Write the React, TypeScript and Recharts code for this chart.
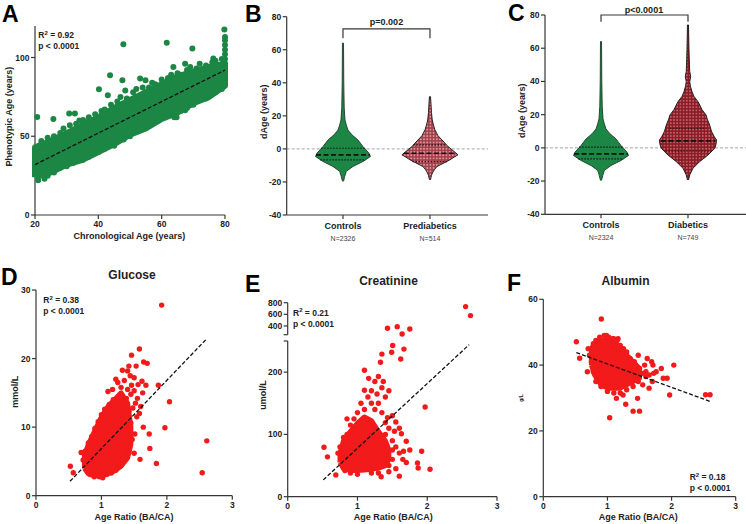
import React from "react";
import { ScatterChart, Scatter, XAxis, YAxis, ReferenceLine } from "recharts";

type Pt = { x: number; y: number };

const FONT = "'Liberation Sans', Arial, Helvetica, sans-serif";
const GREEN = "#1c8745";
const RED = "#f21a1a";
const INK = "#222";
const AXIS_COLOR = "#363636";

// ---------- A: phenotypic age vs chronological age
const ageTicks = [20, 40, 60, 80];
const phenoTicks = [0, 50, 100];
// dense part of the cloud (lower / upper edge of the band)
const ageBandX = [20, 25, 30, 35, 40, 45, 50, 55, 60, 65, 70, 75, 80];
const ageBandLow = [24, 27, 32, 35, 40, 45, 51, 55, 61, 65, 71, 75, 82];
const ageBandHigh = [43, 47, 52, 57, 62, 68, 73, 78, 83, 88, 91, 94, 96];
const agePoints = [
  [20.7, 62.3], [47.9, 108.4], [61.6, 109.3], [69.7, 105.7], [79.8, 117.7], [43.7, 88.8],
  [40.2, 79.9], [47.6, 85.6], [53.2, 86.7], [54.9, 85.6], [63.7, 94], [67.4, 96], [76.3, 99.4],
  [25.8, 60.9], [30.8, 64.5], [32.6, 64.5], [35.2, 60.3], [42.6, 44.4], [43, 76], [48.5, 79],
  [64.7, 62], [67.4, 66.5], [79, 81.5],
  [80, 84], [80, 88], [80, 92], [80, 96], [80, 99], [80, 102], [80, 105], [80, 108], [80, 111], [80, 113],
  [22, 47], [24, 49], [26, 50], [28, 52], [29, 55], [31, 57], [33, 58], [34, 60], [36, 59], [37, 62],
  [39, 64], [41, 66], [42, 67], [44, 70], [46, 72], [47, 75], [49, 74], [51, 78], [52, 80], [54, 81],
  [56, 81], [57, 84], [58, 83], [60, 86], [62, 87], [63, 89], [65, 90], [66, 89], [68, 92], [69, 94],
  [71, 93], [72, 96], [74, 95], [76, 97], [77, 98], [79, 99],
  [21, 22], [23, 23], [24, 25], [26, 27], [28, 30], [30, 31], [32, 33], [35, 35], [37, 37], [38, 40],
  [40, 40], [42, 42], [43, 45], [45, 44], [46, 47], [48, 48], [50, 50], [52, 53], [54, 55], [55, 57],
  [57, 58], [59, 60], [61, 62], [63, 64], [64, 62], [66, 66], [68, 68], [70, 70], [72, 73], [74, 74],
  [75, 76], [77, 78], [79, 80],
];
const ageFit = [[20, 32], [80, 92]];

// ---------- B / C: dAge violins
const dAgeTicks = [-40, -20, 0, 20, 40, 60, 80];
const groupsB = ["Controls", "Prediabetics"];
const countsB = ["N=2326", "N=514"];
const groupsC = ["Controls", "Diabetics"];
const countsC = ["N=2324", "N=749"];

const controlsLevels = [-19.6, -16.6, -13.6, -10.6, -7.6, -4.6, -2.6, 1.4, 5.4, 8.5, 11.4, 14.5, 17.5, 25, 40, 64];
const controlsWidth = [0.006, 0.02, 0.038, 0.115, 0.23, 0.316, 0.299, 0.23, 0.172, 0.103, 0.057, 0.038, 0.023, 0.014, 0.009, 0.006];
const controlsQuart = [[-6.6, 0.26], [-3.6, 0.31], [0.4, 0.25]];

const preLevels = [-18.7, -16, -14.5, -12.5, -10.7, -8.5, -6.6, -5, -3.6, -2, 0, 1.4, 3.5, 5.4, 8, 11.5, 14.5, 17.5, 22, 28, 31.6];
const preWidth = [0.006, 0.017, 0.029, 0.052, 0.08, 0.161, 0.23, 0.276, 0.322, 0.287, 0.241, 0.207, 0.172, 0.138, 0.092, 0.057, 0.04, 0.026, 0.017, 0.011, 0.006];
const preQuart = [[-7.7, 0.2], [-2.6, 0.3], [2.4, 0.19]];

const diaLevels = [-19.3, -16.3, -12.3, -8.3, -4.3, -0.3, 2, 4.7, 7, 10, 13.8, 17, 19.8, 23, 25.5, 27.8, 31, 33.8, 37, 39.8, 42.9, 46, 50, 60, 74];
const diaWidth = [0.006, 0.02, 0.057, 0.134, 0.23, 0.307, 0.322, 0.328, 0.299, 0.27, 0.249, 0.224, 0.207, 0.161, 0.138, 0.115, 0.069, 0.046, 0.029, 0.02, 0.031, 0.02, 0.017, 0.011, 0.006];
const diaQuart = [[-1.9, 0.26], [4.2, 0.31], [11.8, 0.21]];

// ---------- D: glucose
const ratioTicks = [0, 1, 2, 3];
const glucoseTicks = [0, 10, 20, 30];
const glucoseBandX = [0.74, 0.8, 0.9, 1.0, 1.1, 1.2, 1.3, 1.4, 1.45];
const glucoseBandLow = [4.0, 3.2, 2.9, 2.9, 3.2, 3.6, 4.3, 5.5, 7.5];
const glucoseBandHigh = [5.8, 7.5, 9.5, 11.5, 13, 14, 15, 13.5, 10];
const glucosePoints = [
  [1.92, 27.8], [1.58, 21.4], [1.46, 20.5], [1.645, 19.5], [1.7, 19.3], [1.53, 18.9], [1.42, 18.9],
  [1.32, 18.3], [1.87, 16.1], [2.04, 13.7], [1.97, 9.9], [2.61, 8.0], [2.54, 3.35], [1.84, 4.7],
  [1.74, 6.9], [0.525, 4.3], [0.57, 3.35], [0.69, 6.3], [1.64, 10], [1.59, 5.3], [1.22, 17],
  [1.1, 15.2], [1.17, 15.5], [1.68, 16.1], [1.63, 15], [1.46, 16.1], [1.54, 11.5], [1.51, 9.0],
  [1.43, 7.05], [1.5, 6.2], [1.73, 9], [1.375, 11.8], [1.33, 5.5], [1.17, 3.75], [1.02, 2.6],
  [0.89, 2.75], [0.79, 3.5], [1.25, 4.5],
  [1.25, 16.5], [1.3, 15.8], [1.35, 16.8], [1.4, 15.5], [1.45, 14.8], [1.5, 15.3], [1.52, 13.5],
  [1.48, 12.8], [1.38, 14.2], [1.28, 14.6], [1.55, 14.2], [1.6, 13], [1.58, 12], [1.44, 17.5],
  [1.4, 18.2], [1.5, 17.2], [1.33, 13.2], [1.62, 16.7], [1.56, 16.2],
  [0.72, 5.2], [0.75, 6.5], [0.8, 7.7], [0.85, 8.6], [0.9, 9.8], [0.95, 10.8], [1.0, 11.8],
  [1.05, 12.6], [1.12, 13.3], [1.18, 14], [0.78, 4.1], [0.83, 3.1], [0.9, 2.9], [0.97, 2.75],
  [1.08, 3.1], [1.15, 3.3], [1.22, 3.7], [1.3, 4.6], [1.36, 5.5], [1.42, 6.3], [1.47, 8.2],
  [1.45, 10.6], [1.42, 12.3],
];
const glucoseFit = [[0.52, 2.1], [2.61, 22.9]];

// ---------- E: creatinine (broken axis)
const creatLowTicks = [0, 100, 200, 250];
const creatHighTicks = [250, 400, 600, 800];
const creatBandX = [0.75, 0.8, 0.9, 1.0, 1.1, 1.2, 1.3, 1.4, 1.45];
const creatBandLow = [55, 45, 42, 42, 43, 44, 46, 50, 60];
const creatBandHigh = [70, 90, 105, 118, 128, 122, 105, 90, 75];
const creatLowPoints = [
  [1.505, 242.7], [1.666, 237], [1.49, 232], [1.35, 229], [1.62, 221], [1.33, 216], [1.1, 203],
  [1.3, 193], [1.16, 190], [1.37, 185], [1.25, 185], [1.1, 171], [1.97, 144], [0.52, 79.5],
  [0.57, 64], [0.69, 35], [1.92, 73], [2.04, 44], [1.86, 54], [1.87, 46], [1.6, 33], [1.34, 32],
  [1.63, 101], [1.53, 105], [1.7, 89], [1.66, 73], [1.43, 127], [1.4, 119],
  [1.2, 170], [1.15, 160], [1.28, 165], [1.35, 175], [1.05, 150], [1.2, 150], [1.3, 150], [1.4, 160],
  [1.45, 170], [1.0, 135], [1.1, 140], [1.25, 140], [1.35, 135], [1.5, 130], [1.55, 120], [1.6, 110],
  [1.5, 90], [1.55, 80], [1.6, 70], [1.65, 60], [1.5, 60], [1.45, 50], [1.55, 45], [1.7, 55],
  [1.75, 75], [0.85, 100], [0.8, 95], [0.75, 80], [0.72, 70], [0.78, 60], [0.85, 125], [0.9, 115],
  [0.95, 125], [1.45, 40], [1.3, 38], [1.2, 38], [1.0, 36], [0.9, 38], [0.82, 42], [1.4, 100],
  [1.45, 110], [1.5, 75],
];
const creatHighPoints = [[1.43, 360], [1.57, 388], [1.64, 263], [1.75, 349], [2.55, 733], [2.62, 578]];
const creatFit = [[0.51, 27], [2.6, 244]];

// ---------- F: albumin
const albuminTicks = [0, 20, 40, 60];
const albuminBandX = [0.75, 0.8, 0.9, 1.0, 1.1, 1.2, 1.3, 1.4, 1.5];
const albuminBandLow = [40, 37, 34, 33, 33, 33, 34, 35, 36];
const albuminBandHigh = [45, 46.5, 47.5, 47.5, 47, 45.5, 43, 41, 39];
const albuminPoints = [
  [0.905, 54], [0.515, 47.1], [0.567, 42.1], [0.687, 38], [1.035, 24], [1.4, 26], [1.5, 26],
  [1.285, 28.1], [1.243, 30.9], [1.47, 29.9], [1.14, 29.9], [1.97, 30.9], [2.53, 31], [2.6, 31],
  [2.035, 40], [1.84, 39], [1.93, 36], [1.87, 36], [1.71, 40], [1.62, 42], [1.69, 41], [1.65, 33],
  [1.48, 43], [1.35, 42], [1.1, 48], [1.165, 48], [0.985, 49], [1.76, 38],
  [0.82, 47.5], [0.88, 48.5], [0.95, 49], [1.02, 48.5], [1.08, 48], [1.15, 47.5], [1.2, 46],
  [1.25, 45], [1.3, 44], [1.35, 42], [1.42, 41], [1.5, 39], [1.55, 37.5], [1.6, 36.5], [1.48, 35],
  [1.4, 33.5], [1.3, 32.5], [1.2, 31.5], [1.1, 31.5], [1.0, 32], [0.9, 33.5], [0.82, 35],
  [0.78, 38], [0.75, 41], [0.72, 43], [0.7, 45], [0.78, 46.5], [1.55, 34], [1.6, 38], [1.65, 37],
  [1.58, 40], [1.45, 37], [1.38, 38], [1.3, 36], [1.7, 35], [1.72, 37.5],
];
const albuminFit = [[0.515, 43.8], [2.61, 28.9]];

// ---------- helpers
const toXY = (pts: number[][]): Pt[] => pts.map(([x, y]) => ({ x, y }));
const bandPolygon = (xs: number[], lo: number[], hi: number[]): Pt[] => [
  ...xs.map((x, i) => ({ x, y: lo[i] })),
  ...xs.map((x, i) => ({ x, y: hi[i] })).reverse(),
  { x: xs[0], y: lo[0] },
];
const noDot = () => <g />;
const dot = (r: number, fill: string) => (p: any) =>
  p.cx == null ? <g /> : <circle cx={p.cx} cy={p.cy} r={r} fill={fill} />;

const tickStyle = { fontSize: 8.5, fontWeight: 700, fill: INK };
const axisLineStyle = { stroke: AXIS_COLOR, strokeWidth: 1.2 };
const fitLine = { stroke: "#111", strokeWidth: 1.3, strokeDasharray: "4 2" };
const hide250 = (v: number) => (v === 250 ? "" : String(v));

const categoryTick = (labels: string[], counts: string[]) => (props: any) => {
  const { x, y, payload } = props;
  const i = Math.round(payload.value) - 1;
  return (
    <g>
      <text x={x} y={y + 7.5} textAnchor="middle" fontSize={9} fontWeight={700} fill={INK}>
        {labels[i]}
      </text>
      <text x={x} y={y + 19.5} textAnchor="middle" fontSize={7} fill="#444">
        {counts[i]}
      </text>
    </g>
  );
};

function violin(id: string, center: number, levels: number[], widths: number[], fill: string, stroke: string, quart: number[][]) {
  const right = levels.map((v, i) => ({ x: center + widths[i], y: v }));
  const left = levels.map((v, i) => ({ x: center - widths[i], y: v })).reverse();
  const parts = [
    <Scatter
      key={id}
      data={[...right, ...left]}
      line={{ stroke, strokeWidth: 0.9, fill }}
      shape={noDot}
      isAnimationActive={false}
    />,
  ];
  quart.forEach(([v, w], j) => {
    parts.push(
      <Scatter
        key={id + j}
        data={[{ x: center - w, y: v }, { x: center + w, y: v }]}
        line={{ stroke: "#111", strokeWidth: j === 1 ? 1.6 : 1.2, strokeDasharray: j === 1 ? "5 2.5" : "1.4 1.6" }}
        shape={noDot}
        isAnimationActive={false}
      />
    );
  });
  return parts;
}

const bracket = (low: number, high: number): Pt[] => [
  { x: 1, y: low }, { x: 1, y: high }, { x: 2, y: high }, { x: 2, y: low },
];

function Stat({ x, y, r2 }: { x: number; y: number; r2: string }) {
  return (
    <g fontSize={8.5} fontWeight={700} fill={INK}>
      <text x={x} y={y}>
        R<tspan fontSize={6} dy={-3.5}>2</tspan>
        <tspan dy={3.5}>{` = ${r2}`}</tspan>
      </text>
      <text x={x} y={y + 11}>p &lt; 0.0001</text>
    </g>
  );
}

const boxAt = (left: number, top: number): React.CSSProperties => ({ position: "absolute", left, top });

export default function App() {
  return (
    <div style={{ position: "absolute", left: 0, top: 0, width: 746, height: 524, background: "#fff", fontFamily: FONT }}>
      {/* A */}
      <div style={boxAt(0, 0)}>
        <ScatterChart width={240} height={250} margin={{ top: 26, right: 15, bottom: 0, left: 0 }}>
          <XAxis type="number" dataKey="x" domain={[20, 80]} ticks={ageTicks} interval={0} height={35}
            tick={tickStyle} tickSize={4} tickMargin={2} axisLine={axisLineStyle} tickLine={axisLineStyle} />
          <YAxis type="number" dataKey="y" domain={[0, 120]} ticks={phenoTicks} interval={0} width={35}
            tick={tickStyle} tickSize={4} tickMargin={1.5} axisLine={axisLineStyle} tickLine={axisLineStyle} />
          <Scatter data={bandPolygon(ageBandX, ageBandLow, ageBandHigh)}
            line={{ stroke: GREEN, strokeWidth: 6, strokeLinejoin: "round", fill: GREEN }} shape={noDot} isAnimationActive={false} />
          <Scatter data={toXY(agePoints)} shape={dot(3, GREEN)} isAnimationActive={false} />
          <Scatter data={toXY(ageFit)} line={fitLine} shape={noDot} isAnimationActive={false} />
        </ScatterChart>
      </div>

      {/* B */}
      <div style={boxAt(240, 0)}>
        <ScatterChart width={250} height={250} margin={{ top: 16.7, right: 2, bottom: 0, left: 0 }}>
          <defs>
            <pattern id="dotsPre" width={3.2} height={3.2} patternUnits="userSpaceOnUse">
              <rect width={3.2} height={3.2} fill="#a3414a" />
              <circle cx={1.6} cy={1.6} r={0.9} fill="#e6a9ad" />
            </pattern>
          </defs>
          <XAxis type="number" dataKey="x" domain={[0.353, 2.667]} ticks={[1, 2]} interval={0} height={35}
            tick={categoryTick(groupsB, countsB)} tickSize={4} tickMargin={2} axisLine={axisLineStyle} tickLine={axisLineStyle} />
          <YAxis type="number" dataKey="y" domain={[-40, 80]} ticks={dAgeTicks} interval={0} width={46.7}
            tick={tickStyle} tickSize={4} tickMargin={1.5} axisLine={axisLineStyle} tickLine={axisLineStyle} />
          <ReferenceLine y={0} stroke="#9a9a9a" strokeDasharray="3 2" strokeWidth={0.9} />
          {violin("bc", 1, controlsLevels, controlsWidth, GREEN, "#1d3b28", controlsQuart)}
          {violin("bp", 2, preLevels, preWidth, "url(#dotsPre)", "#111", preQuart)}
          <Scatter data={bracket(66.9, 72.6)} line={{ stroke: AXIS_COLOR, strokeWidth: 1.2 }} shape={noDot} isAnimationActive={false} />
        </ScatterChart>
      </div>

      {/* C */}
      <div style={boxAt(490, 0)}>
        <ScatterChart width={256} height={250} margin={{ top: 15, right: 0, bottom: 0, left: 0 }}>
          <defs>
            <pattern id="dotsDia" width={3.2} height={3.2} patternUnits="userSpaceOnUse">
              <rect width={3.2} height={3.2} fill="#8c1d26" />
              <circle cx={1.6} cy={1.6} r={0.8} fill="#cf7d84" />
            </pattern>
          </defs>
          <XAxis type="number" dataKey="x" domain={[0.356, 2.667]} ticks={[1, 2]} interval={0} height={35.7}
            tick={categoryTick(groupsC, countsC)} tickSize={4} tickMargin={2} axisLine={axisLineStyle} tickLine={axisLineStyle} />
          <YAxis type="number" dataKey="y" domain={[-40, 80]} ticks={dAgeTicks} interval={0} width={55}
            tick={tickStyle} tickSize={4} tickMargin={1.5} axisLine={axisLineStyle} tickLine={axisLineStyle} />
          <ReferenceLine y={0} stroke="#9a9a9a" strokeDasharray="3 2" strokeWidth={0.9} />
          {violin("cc", 1, controlsLevels, controlsWidth, GREEN, "#1d3b28", controlsQuart)}
          {violin("cd", 2, diaLevels, diaWidth, "url(#dotsDia)", "#111", diaQuart)}
          <Scatter data={bracket(76, 80)} line={{ stroke: AXIS_COLOR, strokeWidth: 1.2 }} shape={noDot} isAnimationActive={false} />
        </ScatterChart>
      </div>

      {/* D */}
      <div style={boxAt(0, 260)}>
        <ScatterChart width={245} height={264} margin={{ top: 30, right: 12.7, bottom: 0, left: 0 }}>
          <XAxis type="number" dataKey="x" domain={[0, 3]} ticks={ratioTicks} interval={0} height={28.3}
            tick={tickStyle} tickSize={4} tickMargin={2} axisLine={axisLineStyle} tickLine={axisLineStyle} />
          <YAxis type="number" dataKey="y" domain={[0, 30]} ticks={glucoseTicks} interval={0} width={36}
            tick={tickStyle} tickSize={4} tickMargin={1.5} axisLine={axisLineStyle} tickLine={axisLineStyle} />
          <Scatter data={bandPolygon(glucoseBandX, glucoseBandLow, glucoseBandHigh)}
            line={{ stroke: RED, strokeWidth: 5, strokeLinejoin: "round", fill: RED }} shape={noDot} isAnimationActive={false} />
          <Scatter data={toXY(glucosePoints)} shape={dot(2.7, RED)} isAnimationActive={false} />
          <Scatter data={toXY(glucoseFit)} line={fitLine} shape={noDot} isAnimationActive={false} />
        </ScatterChart>
      </div>

      {/* E lower segment */}
      <div style={boxAt(240, 260)}>
        <ScatterChart width={265} height={264} margin={{ top: 81, right: 8, bottom: 0, left: 0 }}>
          <XAxis type="number" dataKey="x" domain={[0, 3]} ticks={ratioTicks} interval={0} height={27.3}
            tick={tickStyle} tickSize={4} tickMargin={2} axisLine={axisLineStyle} tickLine={axisLineStyle} />
          <YAxis type="number" dataKey="y" domain={[0, 250]} ticks={creatLowTicks} interval={0} width={47.7}
            tickFormatter={hide250} tick={tickStyle} tickSize={4} tickMargin={1.5} axisLine={axisLineStyle} tickLine={axisLineStyle} />
          <Scatter data={bandPolygon(creatBandX, creatBandLow, creatBandHigh)}
            line={{ stroke: RED, strokeWidth: 5, strokeLinejoin: "round", fill: RED }} shape={noDot} isAnimationActive={false} />
          <Scatter data={toXY(creatLowPoints)} shape={dot(2.7, RED)} isAnimationActive={false} />
          <Scatter data={toXY(creatFit)} line={fitLine} shape={noDot} isAnimationActive={false} />
        </ScatterChart>
      </div>
      {/* E upper segment */}
      <div style={boxAt(240, 260)}>
        <ScatterChart width={265} height={80} margin={{ top: 42.7, right: 8, bottom: 5.3, left: 0 }}>
          <XAxis type="number" dataKey="x" domain={[0, 3]} hide />
          <YAxis type="number" dataKey="y" domain={[250, 800]} ticks={creatHighTicks} interval={0} width={47.7}
            tickFormatter={hide250} tick={tickStyle} tickSize={4} tickMargin={1.5} axisLine={axisLineStyle} tickLine={axisLineStyle} />
          <Scatter data={toXY(creatHighPoints)} shape={dot(2.7, RED)} isAnimationActive={false} />
        </ScatterChart>
      </div>

      {/* F */}
      <div style={boxAt(490, 260)}>
        <ScatterChart width={256} height={264} margin={{ top: 39.3, right: 10.3, bottom: 0, left: 0 }}>
          <XAxis type="number" dataKey="x" domain={[0, 3]} ticks={ratioTicks} interval={0} height={27.3}
            tick={tickStyle} tickSize={4} tickMargin={2} axisLine={axisLineStyle} tickLine={axisLineStyle} />
          <YAxis type="number" dataKey="y" domain={[0, 60]} ticks={albuminTicks} interval={0} width={53.3}
            tick={tickStyle} tickSize={4} tickMargin={1.5} axisLine={axisLineStyle} tickLine={axisLineStyle} />
          <Scatter data={bandPolygon(albuminBandX, albuminBandLow, albuminBandHigh)}
            line={{ stroke: RED, strokeWidth: 5, strokeLinejoin: "round", fill: RED }} shape={noDot} isAnimationActive={false} />
          <Scatter data={toXY(albuminPoints)} shape={dot(2.7, RED)} isAnimationActive={false} />
          <Scatter data={toXY(albuminFit)} line={fitLine} shape={noDot} isAnimationActive={false} />
        </ScatterChart>
      </div>

      {/* text layer */}
      <svg width={746} height={524} style={{ position: "absolute", left: 0, top: 0, pointerEvents: "none" }} fontFamily={FONT}>
        <g fontSize={23} fontWeight={700} fill="#000">
          <text x={2} y={21.5}>A</text>
          <text x={245} y={21.5}>B</text>
          <text x={508} y={21}>C</text>
          <text x={1} y={285}>D</text>
          <text x={245} y={291.5}>E</text>
          <text x={507} y={290.5}>F</text>
        </g>
        <g fontSize={12} fontWeight={700} fill={INK} textAnchor="middle">
          <text x={132} y={278.6}>Glucose</text>
          <text x={388.5} y={285}>Creatinine</text>
          <text x={625.5} y={285}>Albumin</text>
        </g>
        <g fontSize={9} fontWeight={700} fill={INK} textAnchor="middle">
          <text x={129.3} y={239}>Chronological Age (years)</text>
          <text x={134} y={520}>Age Ratio (BA/CA)</text>
          <text x={393.3} y={520}>Age Ratio (BA/CA)</text>
          <text x={638.3} y={520}>Age Ratio (BA/CA)</text>
          <text transform="translate(12,116.7) rotate(-90)">Phenotypic Age (years)</text>
          <text transform="translate(267,111.7) rotate(-90)">dAge (years)</text>
          <text transform="translate(525,110.7) rotate(-90)">dAge (years)</text>
          <text transform="translate(18.3,391.7) rotate(-90)">mmol/L</text>
          <text transform="translate(265.5,395) rotate(-90)">umol/L</text>
          <text transform="translate(522.5,398) rotate(-90)" fontSize={5}>g/L</text>
          <text x={386.5} y={25}>p=0.002</text>
          <text x={644} y={12.7}>p&lt;0.0001</text>
        </g>
        <Stat x={38.3} y={38.3} r2="0.92" />
        <Stat x={43.3} y={303.3} r2="0.38" />
        <Stat x={293} y={315.7} r2="0.21" />
        <Stat x={689.7} y={480} r2="0.18" />
      </svg>
    </div>
  );
}
